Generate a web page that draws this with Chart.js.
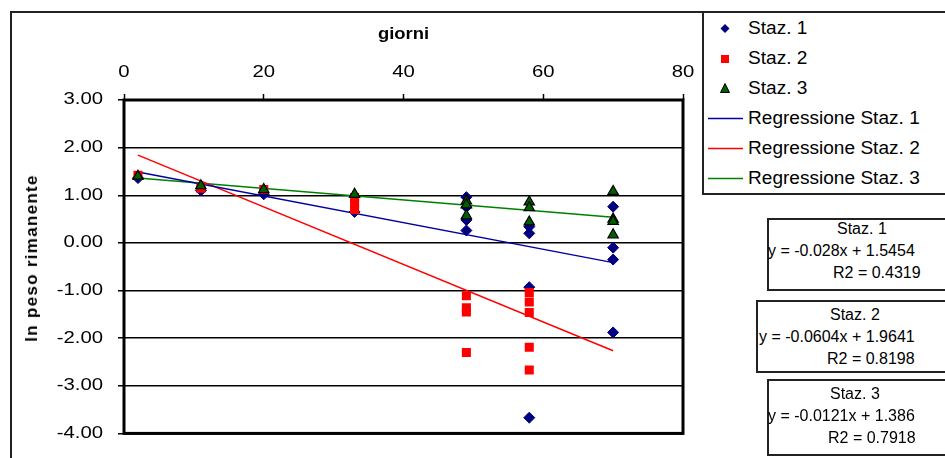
<!DOCTYPE html>
<html>
<head>
<meta charset="utf-8">
<script src="https://cdn.jsdelivr.net/npm/chart.js@4/dist/chart.umd.min.js"></script>
<style>
  html, body { margin: 0; padding: 0; background: #fff; }
  body { width: 945px; height: 458px; overflow: hidden; position: relative;
         font-family: "Liberation Sans", Arial, sans-serif; color: #000; }
  #frame { position: absolute; left: 10px; top: 11px; width: 1000px; height: 500px;
           border: 2px solid #222; box-sizing: border-box; }
  #chart { position: absolute; left: 0; top: 0; }
  #ytitle { position: absolute; left: 32px; top: 258px; transform: translate(-50%, -50%) rotate(-90deg);
            font-weight: bold; font-size: 17px; letter-spacing: 1.3px; white-space: nowrap; }
  #legend { position: absolute; left: 702px; top: 11px; width: 260px; height: 184px;
            border: 2px solid #222; box-sizing: border-box; background: #fff; }
  .row { position: absolute; left: 0; height: 24px; width: 250px; }
  .row svg { position: absolute; left: 0; top: 0; }
  .row span { position: absolute; left: 44px; top: 1px; font-size: 17.5px; line-height: 20px;
              transform: scaleX(1.09); transform-origin: 0 50%; white-space: nowrap; }
  .eqbox { position: absolute; width: 220px; border: 2px solid #222; box-sizing: border-box; background: #fff; }
  .eqbox div { position: absolute; font-size: 16px; line-height: 18px; white-space: nowrap; }
</style>
</head>
<body>
<div id="frame"></div>
<canvas id="chart" width="945" height="458"></canvas>
<div id="ytitle">ln peso rimanente</div>
<div id="legend"></div>
<div id="eqboxes"></div>
<script>
// Days of sampling and ln of remaining weight, per station
const giorni1 = [2, 11, 20, 33, 49, 49, 49, 49, 58, 58, 58, 58, 70, 70, 70, 70];
const peso1   = [1.36, 1.10, 1.02, 0.65, 0.96, 0.75, 0.48, 0.26, 0.34, 0.20, -0.93, -3.67, 0.76, -0.10, -0.35, -1.88];

const giorni2 = [2, 11, 20, 33, 33, 33, 49, 49, 49, 49, 58, 58, 58, 58, 58];
const peso2   = [1.42, 1.15, 1.12, 0.95, 0.82, 0.70, -1.11, -1.36, -1.45, -2.30, -1.04, -1.24, -1.46, -2.19, -2.67];

const giorni3 = [2, 11, 20, 33, 49, 49, 49, 58, 58, 58, 70, 70, 70, 70];
const peso3   = [1.40, 1.20, 1.12, 1.02, 0.88, 0.80, 0.57, 0.86, 0.74, 0.44, 1.08, 0.50, 0.45, 0.17];

// Linear fits (ln peso = slope * giorni + intercept) and their R2
const stazioni   = ["Staz. 1", "Staz. 2", "Staz. 3"];
const pendenze   = [-0.028, -0.0604, -0.0121];
const intercette = [1.5454, 1.9641, 1.386];
const r2         = [0.4319, 0.8198, 0.7918];
const giorniFit  = [2, 70];

// Axis ticks
const xTicks = [0, 20, 40, 60, 80];
const yTicks = [3, 2, 1, 0, -1, -2, -3, -4];

const markerColors = ["#000080", "#FF0000", "#006000"];
const lineColors   = ["#0000A0", "#FF0000", "#008000"];
const FONT = "'Liberation Sans', Arial, sans-serif";

const pts = (xs, ys) => xs.map((x, i) => ({ x, y: ys[i] }));
const fitLine = k => giorniFit.map(x => ({ x, y: pendenze[k] * x + intercette[k] }));

const datasets = [
  { label: "Staz. 1", data: pts(giorni1, peso1), pointStyle: "rectRot", pointRadius: 5.5,
    backgroundColor: markerColors[0], borderColor: markerColors[0], borderWidth: 1, order: 3 },
  { label: "Staz. 2", data: pts(giorni2, peso2), pointStyle: "rect", pointRadius: 6.4,
    backgroundColor: markerColors[1], borderColor: markerColors[1], borderWidth: 0, order: 2 },
  { label: "Staz. 3", data: pts(giorni3, peso3), pointStyle: "triangle", pointRadius: 6,
    backgroundColor: markerColors[2], borderColor: "#000", borderWidth: 1.2, order: 1 }
];
stazioni.forEach((s, k) => datasets.push({
  type: "line", label: "Regressione " + s, data: fitLine(k), showLine: true,
  pointRadius: 0, borderColor: lineColors[k], borderWidth: 1.5, fill: false, order: 4 + k
}));

// Axis lettering in this chart is set wide, so canvas text gets a horizontal stretch
const canvas = document.getElementById("chart");
const ctx = canvas.getContext("2d");
const plainFill = ctx.fillText;
ctx.fillText = function (text, x, y) {
  const k = /bold/.test(this.font) ? 1.15 : 1.27;
  this.save();
  this.translate(x, y);
  this.scale(k, 1);
  plainFill.call(this, text, 0, 0);
  this.restore();
};

// Heavy black frame round the plotting area
const plotFrame = {
  id: "plotFrame",
  beforeDatasetsDraw(chart) {
    const a = chart.chartArea, c = chart.ctx;
    c.save();
    c.strokeStyle = "#000";
    c.lineWidth = 3;
    c.strokeRect(a.left, a.top, a.right - a.left, a.bottom - a.top);
    c.restore();
  }
};

new Chart(ctx, {
  type: "scatter",
  data: { datasets },
  options: {
    responsive: false,
    animation: false,
    devicePixelRatio: 1,
    layout: { padding: { left: 0, top: 0, right: 262, bottom: 23 } },
    plugins: { legend: { display: false }, tooltip: { enabled: false } },
    scales: {
      x: {
        type: "linear", position: "top", min: 0, max: 80,
        afterBuildTicks: s => { s.ticks = xTicks.map(v => ({ value: v })); },
        afterFit: s => { s.height = 100; },
        ticks: { color: "#000", font: { family: FONT, size: 16 }, padding: 12, maxRotation: 0, autoSkip: false },
        grid: { drawOnChartArea: false, drawTicks: true, tickLength: 6, tickColor: "#000", tickWidth: 1.5 },
        border: { display: false },
        title: { display: true, text: "giorni", color: "#000",
                 font: { family: FONT, size: 16, weight: "bold" }, padding: { top: 25, bottom: 0 } }
      },
      y: {
        type: "linear", min: -4, max: 3,
        afterBuildTicks: s => { s.ticks = yTicks.map(v => ({ value: v })); },
        afterFit: s => { s.width = 124; },
        ticks: { color: "#000", font: { family: FONT, size: 16 }, padding: 15,
                 callback: v => Number(v).toFixed(2) },
        grid: { color: "#000", lineWidth: 1.5, drawTicks: true, tickLength: 6, tickColor: "#000", tickWidth: 1.5 },
        border: { display: false }
      }
    }
  },
  plugins: [plotFrame]
});

// Legend: three marker entries, then the three fitted lines
const legend = document.getElementById("legend");
const markerSvg = k => {
  const c = markerColors[k];
  if (k === 0) return `<polygon points="21,7 25.5,11.5 21,16 16.5,11.5" fill="${c}"/>`;
  if (k === 1) return `<rect x="17" y="8" width="8" height="8" fill="${c}"/>`;
  return `<polygon points="21,6.5 25.5,15.5 16.5,15.5" fill="${c}" stroke="#000" stroke-width="1"/>`;
};
const entries = [];
stazioni.forEach((s, k) => entries.push({ text: s, svg: markerSvg(k) }));
stazioni.forEach((s, k) => entries.push({
  text: "Regressione " + s,
  svg: `<line x1="4" y1="11.5" x2="39" y2="11.5" stroke="${lineColors[k]}" stroke-width="1.5"/>`
}));
entries.forEach((e, i) => {
  const row = document.createElement("div");
  row.className = "row";
  row.style.top = (3.5 + 30 * i) + "px";
  row.innerHTML = `<svg width="44" height="24">${e.svg}</svg><span>${e.text}</span>`;
  legend.appendChild(row);
});

// Boxes with the regression equations
const boxLayout = [
  { left: 767, top: 218, height: 73, lines: [[70, 11], [1, 33], [66, 55]] },
  { left: 756, top: 300, height: 73, lines: [[74, 15], [3, 37], [71, 59]] },
  { left: 767, top: 379, height: 77, lines: [[63, 15], [1, 37], [61, 59]] }
];
const holder = document.getElementById("eqboxes");
stazioni.forEach((s, k) => {
  const L = boxLayout[k];
  const box = document.createElement("div");
  box.className = "eqbox";
  box.style.left = L.left + "px";
  box.style.top = L.top + "px";
  box.style.height = L.height + "px";
  const texts = [s, `y = ${pendenze[k]}x + ${intercette[k]}`, `R2 = ${r2[k]}`];
  texts.forEach((t, j) => {
    const d = document.createElement("div");
    d.textContent = t;
    d.style.left = (L.lines[j][0] - 2) + "px";
    d.style.top = (L.lines[j][1] - 11) + "px";
    box.appendChild(d);
  });
  holder.appendChild(box);
});
</script>
</body>
</html>
